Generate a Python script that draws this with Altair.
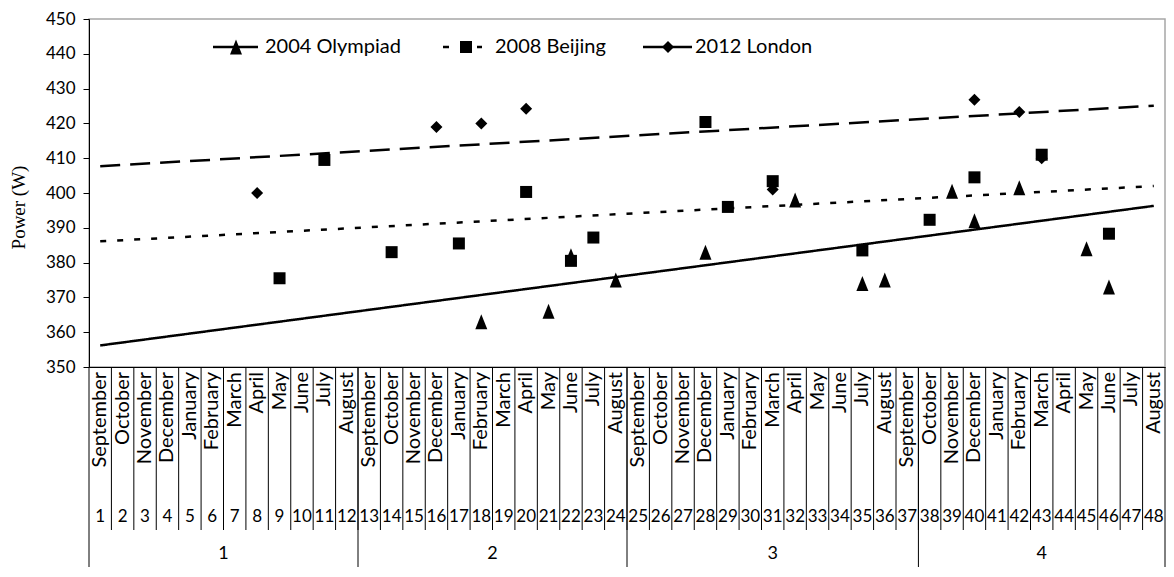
import altair as alt
import pandas as pd

# ---------------- data ----------------
month_cycle = ["September", "October", "November", "December", "January", "February",
               "March", "April", "May", "June", "July", "August"]
months = list(range(1, 49))
month_names = month_cycle * 4
year_groups = [1] * 12 + [2] * 12 + [3] * 13 + [4] * 11

series_names = ["2004 Olympiad", "2008 Beijing", "2012 London"]

olympiad_months = [18, 21, 22, 24, 28, 32, 35, 36, 39, 40, 42, 45, 46]
olympiad_power = [363, 366, 382, 375, 383, 398, 374, 375, 400.5, 392, 401.5, 384, 373]

beijing_months = [9, 11, 14, 17, 20, 22, 23, 28, 29, 31, 35, 38, 40, 43, 46]
beijing_power = [375.5, 409.5, 383, 385.5, 400.3, 380.5, 387.2, 420.4, 396, 403.4,
                 383.5, 392.3, 404.5, 411, 388.3]

london_months = [8, 16, 18, 20, 31, 40, 42, 43]
london_power = [400, 419, 420, 424.2, 401, 426.8, 423.3, 410]

# linear trend lines: value at first and last month
trend_months = [1, 48]
trend_start = [356.2, 386.1, 407.7]
trend_end = [396.3, 402.0, 425.1]

# ---------------- tables ----------------
pts = pd.concat([
    pd.DataFrame({"series": series_names[2], "month": london_months, "power": london_power}),
    pd.DataFrame({"series": series_names[0], "month": olympiad_months, "power": olympiad_power}),
    pd.DataFrame({"series": series_names[1], "month": beijing_months, "power": beijing_power}),
], ignore_index=True)

trend = pd.DataFrame([
    {"series": s, "month": m, "power": v}
    for s, a, b in zip(series_names, trend_start, trend_end)
    for m, v in zip(trend_months, [a, b])
])

month_df = pd.DataFrame({"month": months, "name": month_names, "num": [str(m) for m in months]})
month_bounds = pd.DataFrame({"b": [m + 0.5 for m in months[:-1]]})

groups = sorted(set(year_groups))
g_first = [months[year_groups.index(g)] for g in groups]
g_last = [months[len(year_groups) - 1 - year_groups[::-1].index(g)] for g in groups]
year_bounds = pd.DataFrame({"b": [g_first[0] - 0.5] + [l + 0.5 for l in g_last]})
year_labels = pd.DataFrame({"c": [(f + l) / 2 for f, l in zip(g_first, g_last)],
                            "label": [str(g) for g in groups]})

# ---------------- styling ----------------
FONT = "Lato"
W, H = 1076, 348
TOP = 11
BOTTOM = 200
TRI = "M0,-1.25L-1,1.25L1,1.25Z"
shapes = [TRI, "square", "diamond"]
dashes = [[1, 0], [6, 11], [20, 10]]

xscale = alt.Scale(domain=[0.5, 48.5], nice=False, zero=False)
yscale = alt.Scale(domain=[350, 450], nice=False, zero=False)
xaxis = alt.Axis(title=None, labels=False, ticks=False, grid=False,
                 domainColor="black", domainWidth=1)
yaxis = alt.Axis(values=list(range(350, 451, 10)), grid=False, domainColor="black",
                 tickColor="black", tickSize=6, labelPadding=8, labelFont=FONT,
                 labelFontSize=17, labelColor="black", title="Power (W)",
                 titleFont="Liberation Serif", titleFontSize=19, titleFontWeight="normal",
                 titleColor="black", titleAngle=270, titleX=-71, titleY=188,
                 titleAlign="center", titleBaseline="middle")


def X(field):
    return alt.X(f"{field}:Q", scale=xscale, axis=xaxis)


def Y(field):
    return alt.Y(f"{field}:Q", scale=yscale, axis=yaxis)


trend_layer = alt.Chart(trend).mark_line(strokeWidth=2.5, color="black").encode(
    x=X("month"), y=Y("power"),
    detail="series:N",
    strokeDash=alt.StrokeDash("series:N", scale=alt.Scale(domain=series_names, range=dashes),
                              legend=None),
)

point_layer = alt.Chart(pts).mark_point(size=144, filled=True, color="black", opacity=1,
                                        strokeWidth=0).encode(
    x=X("month"), y=Y("power"),
    shape=alt.Shape("series:N", scale=alt.Scale(domain=series_names, range=shapes), legend=None),
)

month_sep = alt.Chart(month_bounds).mark_rule(color="black", strokeWidth=1).encode(
    x=X("b"), y=alt.value(H), y2=alt.value(H + 163))
year_sep = alt.Chart(year_bounds).mark_rule(color="black", strokeWidth=1).encode(
    x=X("b"), y=alt.value(H), y2=alt.value(H + BOTTOM))

month_text = alt.Chart(month_df).mark_text(font=FONT, fontSize=20, angle=270, align="right",
                                           baseline="middle", color="black").encode(
    x=X("month"), y=alt.value(H + 5), text="name:N")
num_text = alt.Chart(month_df).mark_text(font=FONT, fontSize=17, align="center",
                                         baseline="middle", color="black").encode(
    x=X("month"), y=alt.value(H + 150), text="num:N")
year_text = alt.Chart(year_labels).mark_text(font=FONT, fontSize=18, align="center",
                                             baseline="middle", color="black").encode(
    x=X("c"), y=alt.value(H + 187), text="label:N")

# ---------------- manual legend ----------------
LEG_Y = 28
leg_pos = [(124, 169, 147, 176), (354, 393, 377, 406), (554, 603, 579, 606)]
leg_dash = [None, [6, 11], None]
legend_layers = []
for name, shp, (x1, x2, xm, xt), dsh in zip(series_names, shapes, leg_pos, leg_dash):
    d = pd.DataFrame({"series": [name]})
    rule_kw = {"color": "black", "strokeWidth": 2.5}
    if dsh:
        rule_kw["strokeDash"] = dsh
    legend_layers.append(alt.Chart(d).mark_rule(**rule_kw).encode(
        x=alt.value(x1), x2=alt.value(x2), y=alt.value(LEG_Y)))
    legend_layers.append(alt.Chart(d).mark_point(shape=shp, size=144, filled=True,
                                                 color="black", opacity=1, strokeWidth=0).encode(
        x=alt.value(xm), y=alt.value(LEG_Y)))
    legend_layers.append(alt.Chart(d).mark_text(font=FONT, fontSize=20, align="left",
                                                baseline="middle", color="black").encode(
        x=alt.value(xt), y=alt.value(LEG_Y), text="series:N"))

chart = alt.layer(
    month_sep, year_sep, month_text, num_text, year_text,
    trend_layer, point_layer, *legend_layers
).properties(
    width=W, height=H,
    autosize=alt.AutoSizeParams(type="none"),
    padding={"left": 81, "top": TOP, "right": 1, "bottom": BOTTOM},
).configure_view(stroke="#a6a6a6", strokeWidth=1.5)

chart.save("out.html", embed_options={"renderer": "svg", "actions": False})
